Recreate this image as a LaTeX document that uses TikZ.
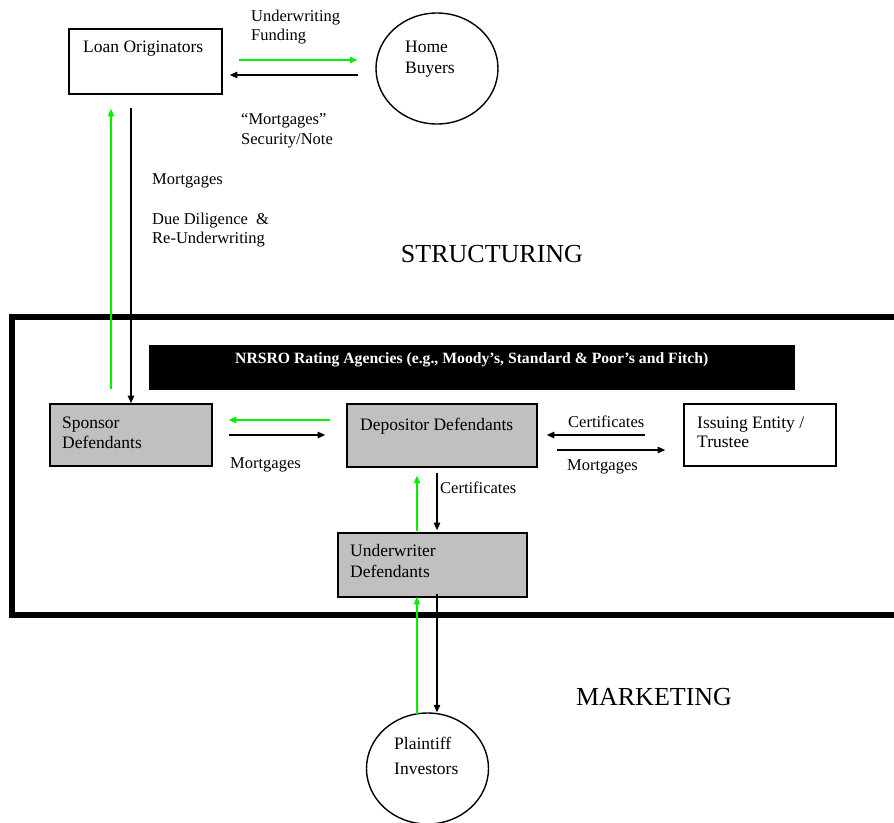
\documentclass[tikz,border=0pt]{standalone}
\usepackage{fontspec}
\setmainfont{Liberation Serif}
\usetikzlibrary{arrows.meta,shapes.geometric}
\definecolor{arrgreen}{RGB}{0,240,0}
\definecolor{boxgray}{RGB}{192,192,192}
\begin{document}
\begin{tikzpicture}[x=1pt,y=-1pt,
  box/.style={draw, line width=1.6pt, inner sep=0pt},
  graybox/.style={box, fill=boxgray},
  oval/.style={draw, ellipse, line width=1.4pt, minimum width=122pt, minimum height=111pt, inner sep=0pt},
  txt/.style={anchor=base west, inner sep=0pt, font=\fontsize{17.5}{21}\selectfont},
  lbl/.style={anchor=base west, inner sep=0pt, font=\fontsize{16.5}{19}\selectfont},
  big/.style={anchor=base, inner sep=0pt, font=\fontsize{26}{30}\selectfont},
  arr/.style={-{Triangle[length=7.5pt,width=6.5pt]}, line width=1.2pt},
  garr/.style={arr, draw=arrgreen, fill=arrgreen}
]
\useasboundingbox (0,0) rectangle (894,822);

% frame
\draw[line width=6pt] (12,317) rectangle (915,614.5);

% nodes
\node[box, minimum width=153pt, minimum height=65pt] (lo) at (145.5,61.5) {};
\node[oval] (hb) at (437,68.5) {};
\node[graybox, minimum width=162pt, minimum height=62pt] (sp) at (131,435) {};
\node[graybox, minimum width=190pt, minimum height=63pt] (dep) at (442,435.5) {};
\node[box, minimum width=152pt, minimum height=62pt] (iss) at (760,435) {};
\node[graybox, minimum width=189pt, minimum height=64pt] (uw) at (432.5,565) {};
\node[fill=black, minimum width=646pt, minimum height=45pt, inner sep=0pt] (nr) at (472,367.5) {};
\node[oval] (pl) at (427.5,768.5) {};

% texts
\node[txt] (tlo) at (83,52) {Loan Originators};
\node[txt] (thb1) at (405,52) {Home};
\node[txt] (thb2) at (405,73) {Buyers};
\node[lbl] (tuf1) at (251,21) {Underwriting};
\node[lbl] (tuf2) at (251,40) {Funding};
\node[lbl] (tms1) at (241,124) {“Mortgages”};
\node[lbl] (tms2) at (241,144) {Security/Note};
\node[lbl] (tmg) at (152,184) {Mortgages};
\node[lbl] (tdd1) at (152,224) {Due Diligence\ \ \&};
\node[lbl] (tdd2) at (152,243) {Re-Underwriting};
\node[big] (tstr) at (492,262) {STRUCTURING};
\node[anchor=base west, inner sep=0pt, text=white, font=\fontsize{15.7}{18}\bfseries] (tnr) at (235,363) {NRSRO Rating Agencies (e.g., Moody’s, Standard \& Poor’s and Fitch)};
\node[txt] (tsp1) at (62,428) {Sponsor};
\node[txt] (tsp2) at (62,448) {Defendants};
\node[lbl] (tsm) at (230,468) {Mortgages};
\node[txt] (tdep) at (360,430) {Depositor Defendants};
\node[lbl] (tcer) at (568,427) {Certificates};
\node[lbl] (tim) at (567,470) {Mortgages};
\node[txt] (tis1) at (697,428) {Issuing Entity /};
\node[txt] (tis2) at (697,447) {Trustee};
\node[lbl] (tcv) at (440,493) {Certificates};
\node[txt] (tuw1) at (350,556) {Underwriter};
\node[txt] (tuw2) at (350,577) {Defendants};
\node[big] (tmk) at (654,705) {MARKETING};
\node[txt] (tpl1) at (394,749) {Plaintiff};
\node[txt] (tpl2) at (394,774) {Investors};

% connectors
\draw[garr] ([shift={(16,-1.5)}]lo.east) -- ([shift={(-18,-8.5)}]hb.west);
\draw[arr] ([shift={(-17,6.5)}]hb.west) -- ([shift={(7,13.5)}]lo.east);
\draw[garr] ([shift={(-20,-14)}]sp.north) -- ([shift={(-34.5,14)}]lo.south);
\draw[arr] ([shift={(-14.5,13)}]lo.south) -- (sp.north);
\draw[garr] ([shift={(-16,-15.5)}]dep.west) -- ([shift={(16,-15)}]sp.east);
\draw[arr] ([shift={(16,0)}]sp.east) -- ([shift={(-21,-0.5)}]dep.west);
\draw[arr] ([shift={(-38,0)}]iss.west) -- ([shift={(9,-0.5)}]dep.east);
\draw[arr] ([shift={(19,14.5)}]dep.east) -- ([shift={(-18,15)}]iss.west);
\draw[garr] ([shift={(-15.5,-1)}]uw.north) -- ([shift={(-25,8)}]dep.south);
\draw[arr] ([shift={(-5,5)}]dep.south) -- ([shift={(4.5,-2)}]uw.north);
\draw[garr] ([shift={(-10.5,2)}]pl.north) -- ([shift={(-15.5,-1)}]uw.south);
\draw[arr] ([shift={(4.5,-4)}]uw.south) -- ([shift={(9.5,0)}]pl.north);
\end{tikzpicture}
\end{document}
